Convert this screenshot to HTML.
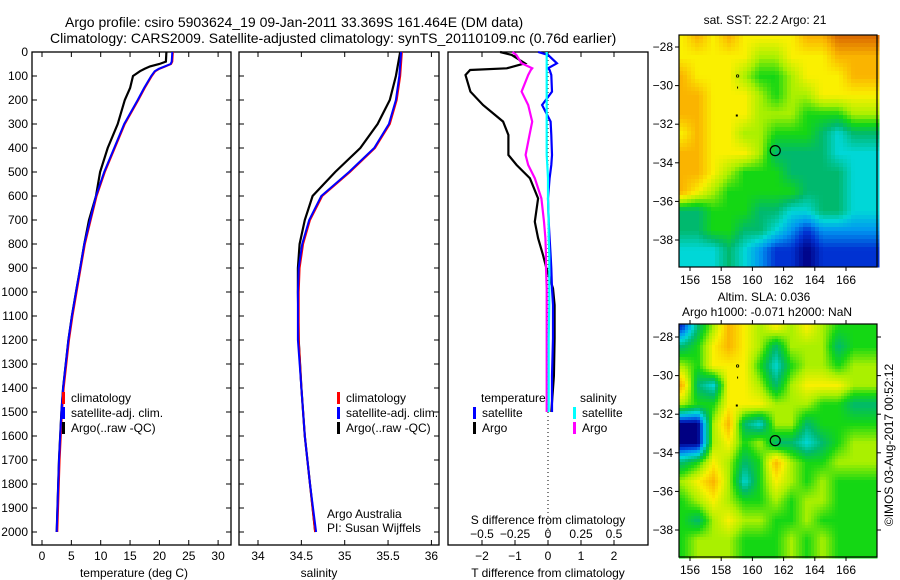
<!DOCTYPE html>
<html><head><meta charset="utf-8"><style>
html,body{margin:0;padding:0;background:#fff;}
svg{display:block;font-family:"Liberation Sans",Arial,sans-serif;}
text{fill:#000;}
</style></head><body>
<svg id="fig" width="900" height="580" viewBox="0 0 900 580" xmlns="http://www.w3.org/2000/svg">
<text x="65" y="27" font-size="14">Argo profile: csiro 5903624_19 09-Jan-2011 33.369S 161.464E (DM data)</text>
<text x="50" y="43" font-size="14">Climatology: CARS2009. Satellite-adjusted climatology: synTS_20110109.nc (0.76d earlier)</text>
<g id="p1"></g>
<g id="p2"></g>
<g id="p3"></g>
<g id="m1"></g>
<g id="m2"></g>
<text x="765" y="24" font-size="12" text-anchor="middle">sat. SST: 22.2 Argo: 21</text>
<text x="764" y="301" font-size="12" text-anchor="middle">Altim. SLA: 0.036</text>
<text x="767" y="316" font-size="12" text-anchor="middle">Argo h1000: -0.071 h2000: NaN</text>
<text transform="translate(893,445) rotate(-90)" font-size="12" text-anchor="middle">©IMOS 03-Aug-2017 00:52:12</text>
</svg>
<script>
// ---- data ----
const depthT = [0,40,50,60,70,80,100,150,200,300,400,500,600,700,800,900,1000,1100,1200,1400,1500,1700,2000];
const climT  = [22.3,22.2,22.0,21.0,20.0,19.3,18.7,17.5,16.4,14.1,12.4,10.7,9.3,8.3,7.3,6.6,5.9,5.2,4.6,3.7,3.4,3.0,2.6];
const satT   = [22.2,22.1,21.9,20.9,19.9,19.2,18.6,17.4,16.3,14.0,12.3,10.6,9.2,8.2,7.2,6.5,5.8,5.1,4.5,3.6,3.3,2.9,2.5];
const argoT  = [21.2,21.1,20.0,18.4,17.5,16.7,15.5,15.0,14.1,12.9,11.2,9.9,9.2,8.0,7.2,6.5,5.8,5.1,4.5,3.6,3.3,2.9,2.5];
const depthS = [0,100,200,300,400,500,600,700,800,900,1000,1200,1400,1600,1800,2000];
const climS  = [35.66,35.64,35.60,35.52,35.35,35.06,34.74,34.60,34.52,34.48,34.47,34.47,34.50,34.54,34.60,34.66];
const satS   = [35.65,35.63,35.59,35.51,35.34,35.05,34.73,34.59,34.51,34.47,34.46,34.46,34.50,34.54,34.60,34.67];
const argoS  = [35.64,35.59,35.52,35.38,35.18,34.89,34.63,34.54,34.48,34.46,34.46,34.47,34.50,34.54,34.60,34.66];
const depthD = [0,12,47,68,75,96,165,221,290,346,429,471,526,610,707,776,846,901,985,1054,1193,1350,1500];
const argoDT = [-1.45,-1.1,-0.7,-1.25,-2.36,-2.5,-2.35,-1.97,-1.36,-1.2,-1.2,-0.95,-0.55,-0.3,-0.4,-0.3,-0.15,-0.05,0.15,0.2,0.2,0.18,0.1];
const satDT  = [-0.3,0.0,0.27,0.0,0.05,0.1,0.12,-0.18,0.08,0.1,0.12,0.1,0.05,0.0,0.02,0.05,0.08,0.1,0.12,0.15,0.15,0.12,0.12];
const argoDS = [-0.27,-0.24,-0.2,-0.12,-0.13,-0.15,-0.2,-0.15,-0.12,-0.14,-0.17,-0.15,-0.1,-0.05,-0.03,-0.02,-0.015,-0.015,-0.01,-0.01,-0.01,-0.01,-0.01];
const satDS  = [-0.01,-0.01,-0.01,-0.01,-0.01,-0.01,-0.01,-0.01,-0.01,-0.01,-0.01,-0.005,0,0,0.005,0.005,0.01,0.01,0.01,0.01,0.005,0.005,0.005];
const depthTicks = [0,100,200,300,400,500,600,700,800,900,1000,1100,1200,1300,1400,1500,1600,1700,1800,1900,2000];
const tTicks = [0,5,10,15,20,25,30];
const sTicks = [34,34.5,35,35.5,36];
const dTTicks = [-2,-1,0,1,2];
const dSTicks = [-0.5,-0.25,0,0.25,0.5];
const lonTicks = [156,158,160,162,164,166];
const latTicks = [-28,-30,-32,-34,-36,-38];
const argoLon = 161.464, argoLat = -33.369;
// SST map field (rows lat -27.5..-38.5, cols lon 155.5..166.5)
const sstField = [
[7,8,7,8,7,7,7,7,8,8,9,9],
[7,7,7,7,7,6,6,7,7,7,8,8],
[8,7,7,7,6,5,5,6,7,7,7,8],
[8,8,7,7,7,6,5,6,6,7,7,7],
[8,8,7,7,7,6,6,6,5,5,5,6],
[7,8,7,7,6,6,5,5,5,4,3,4],
[8,8,7,7,7,6,4,4,4,4,3,3],
[8,8,7,6,5,5,5,4,4,4,4,3],
[8,7,6,5,5,5,5,5,4,4,4,3],
[4,4,5,5,5,4,4,3,3,4,4,3],
[4,4,5,5,4,4,3,2,1,2,2,2],
[3,3,3,4,3,2,1,1,0,1,1,1]];
const slaField = [
[1,4,6,8,7,6,7,6,7,6,5,5],
[4,5,7,8,7,6,4,6,6,6,4,5],
[6,5,7,7,7,5,3,5,6,6,5,6],
[8,4,3,7,7,6,4,6,7,7,7,6],
[6,5,5,7,7,7,6,6,6,5,5,4],
[0,0,6,8,4,3,6,6,4,5,5,5],
[0,0,6,7,5,6,4,4,3,4,5,6],
[4,5,7,6,4,5,8,6,5,5,6,6],
[6,7,8,6,3,5,7,6,5,6,5,5],
[5,6,7,6,5,5,6,5,6,6,5,5],
[5,4,6,7,6,6,5,5,6,5,5,5],
[5,6,6,6,5,5,5,6,5,6,5,5]];

// ---- helpers ----
const NS="http://www.w3.org/2000/svg";
function mk(tag, parent, attrs){const e=document.createElementNS(NS,tag);for(const k in attrs)e.setAttribute(k,attrs[k]);parent.appendChild(e);return e;}
function txt(parent,x,y,s,anchor,size){const t=mk('text',parent,{x:x,y:y,'font-size':size||12,'text-anchor':anchor||'middle'});t.textContent=s;return t;}
const yTop=52, yScale=0.24, pBottom=545;
const yD = d => yTop + d*yScale;

function frame(g,x0,x1){
  const r=mk('rect',g,{x:x0,y:yTop,width:x1-x0,height:pBottom-yTop,fill:'none',stroke:'#000','stroke-width':1.3});
  
  
  depthTicks.forEach(d=>{
    mk('line',g,{x1:x0,x2:x0+5,y1:yD(d),y2:yD(d),stroke:'#000'});
    mk('line',g,{x1:x1,x2:x1-5,y1:yD(d),y2:yD(d),stroke:'#000'});
  });
}
function line(g,xs,ds,xf,color,w,name){
  const pts=xs.map((v,i)=>xf(v).toFixed(1)+','+yD(ds[i]).toFixed(1)).join(' ');
  const p=mk('polyline',g,{points:pts,fill:'none',stroke:color,'stroke-width':w});
  
  
}
function legend(g,x,y,items){
  items.forEach((it,i)=>{
    const yy=y+i*15;
    mk('rect',g,{x:x,y:yy-10,width:3,height:12,fill:it[1]});
    const t=txt(g,x+9,yy,it[0],'start',12);
    
    
  });
}

// ---- panel 1 ----
const p1=document.getElementById('p1');
const xT = t => 42 + t*5.87;
frame(p1,32,231);
depthTicks.forEach(d=>{const t=txt(p1,28,yD(d)+4,String(d),'end',12);
  
  });
tTicks.forEach(v=>{mk('line',p1,{x1:xT(v),x2:xT(v),y1:pBottom,y2:pBottom-5,stroke:'#000'});mk('line',p1,{x1:xT(v),x2:xT(v),y1:yTop,y2:yTop+5,stroke:'#000'});
  const t=txt(p1,xT(v),560,String(v));
  
  });
const xl1=txt(p1,134,577,'temperature (deg C)');


line(p1,argoT,depthT,xT,'#000',2.2,'argo-temperature-line');
line(p1,climT,depthT,xT,'#f00',2,'clim-temperature-line');
line(p1,satT,depthT,xT,'#00f',2,'sat-temperature-line');
legend(p1,62,402,[['climatology','#f00'],['satellite-adj. clim.','#00f'],['Argo(..raw -QC)','#000']]);

// ---- panel 2 ----
const p2=document.getElementById('p2');
const xS = s => 258 + (s-34)*86.7;
frame(p2,239,439);
sTicks.forEach(v=>{mk('line',p2,{x1:xS(v),x2:xS(v),y1:pBottom,y2:pBottom-5,stroke:'#000'});mk('line',p2,{x1:xS(v),x2:xS(v),y1:yTop,y2:yTop+5,stroke:'#000'});
  const t=txt(p2,xS(v),560,String(v));
  
  });
const xl2=txt(p2,319,577,'salinity');


line(p2,argoS,depthS,xS,'#000',2.2,'argo-salinity-line');
line(p2,climS,depthS,xS,'#f00',2,'clim-salinity-line');
line(p2,satS,depthS,xS,'#00f',2,'sat-salinity-line');
legend(p2,337,402,[['climatology','#f00'],['satellite-adj. clim.','#00f'],['Argo(..raw -QC)','#000']]);
txt(p2,327,518,'Argo Australia','start',12);
txt(p2,327,532,'PI: Susan Wijffels','start',12);

// ---- panel 3 ----
const p3=document.getElementById('p3');
const xDT = v => 548 + v*33;
const xDS = v => 548 + v*132;
const r3=mk('rect',p3,{x:448,y:yTop,width:200,height:pBottom-yTop,fill:'none',stroke:'#000','stroke-width':1.3});


mk('line',p3,{x1:548,x2:548,y1:yTop,y2:pBottom,stroke:'#000','stroke-dasharray':'1,3'});
dTTicks.forEach(v=>{mk('line',p3,{x1:xDT(v),x2:xDT(v),y1:pBottom,y2:pBottom-5,stroke:'#000'});mk('line',p3,{x1:xDT(v),x2:xDT(v),y1:yTop,y2:yTop+5,stroke:'#000'});
  const t=txt(p3,xDT(v),560,String(v).replace('-','\u2212'));
  
  });
dSTicks.forEach(v=>{
  const t=txt(p3,xDS(v),538,String(v).replace('0.','.').replace('-.','\u2212.').replace('.','0.'));
  
  });
txt(p3,548,524,'S difference from climatology');
const xl3=txt(p3,548,577,'T difference from climatology');


line(p3,argoDT,depthD,xDT,'#000',2.2,'argo-t-diff-line');
line(p3,argoDS,depthD,xDS,'#f0f',2.2,'argo-s-diff-line');
line(p3,satDT,depthD,xDT,'#00f',2.2,'sat-t-diff-line');
line(p3,satDS,depthD,xDS,'#0ff',2.2,'sat-s-diff-line');
txt(p3,481,402,'temperature','start',12);
txt(p3,580,402,'salinity','start',12);
legend(p3,473,417,[['satellite','#00f'],['Argo','#000']]);
legend(p3,573,417,[['satellite','#0ff'],['Argo','#f0f']]);

// ---- maps ----
const cmap=[[0,0,130],[0,50,210],[0,150,240],[0,215,215],[0,185,110],[20,215,20],[170,240,0],[250,240,0],[250,180,0],[220,110,0]];
function col(v){v=Math.max(0,Math.min(9,v));const i=Math.min(8,Math.floor(v)),f=v-i;const a=cmap[i],b=cmap[i+1];
  return 'rgb('+a.map((c,k)=>Math.round(c+(b[k]-c)*f)).join(',')+')';}
function sample(F,lon,lat){
  const cx=Math.max(0,Math.min(11,lon-155.5)), cy=Math.max(0,Math.min(11,-27.5-lat));
  const i=Math.min(10,Math.floor(cx)),j=Math.min(10,Math.floor(cy)),fx=cx-i,fy=cy-j;
  return F[j][i]*(1-fx)*(1-fy)+F[j][i+1]*fx*(1-fy)+F[j+1][i]*(1-fx)*fy+F[j+1][i+1]*fx*fy;}
function map(id,F,top,bottom,lat28,lat38,step,allTicks){
  const g=document.getElementById(id);
  const x0=679,x1=877;
  const xL = lon => 690 + (lon-156)*15.6;
  const yL = lat => lat28 + (-28-lat)*(lat38-lat28)/10;
  const lonOf = x => 156 + (x-690)/15.6;
  const latOf = y => -28 - (y-lat28)*10/(lat38-lat28);
  for(let y=top;y<bottom;y+=step){for(let x=x0;x<x1;x+=step){
    mk('rect',g,{x:x,y:y,width:step+0.5,height:step+0.5,fill:col(sample(F,lonOf(x+step/2),latOf(y+step/2)))});}}
  const fr=mk('rect',g,{x:x0,y:top,width:x1-x0,height:bottom-top,fill:'none',stroke:'#000','stroke-width':1.2});
  
  
  lonTicks.forEach(v=>{mk('line',g,{x1:xL(v),x2:xL(v),y1:bottom,y2:bottom+4,stroke:'#000'});
    if(allTicks)mk('line',g,{x1:xL(v),x2:xL(v),y1:top,y2:top-4,stroke:'#000'});
    const t=txt(g,xL(v),bottom+17,String(v));
    
    });
  latTicks.forEach(v=>{mk('line',g,{x1:x0,x2:x0-4,y1:yL(v),y2:yL(v),stroke:'#000'});
    if(allTicks)mk('line',g,{x1:x1,x2:x1+4,y1:yL(v),y2:yL(v),stroke:'#000'});
    const t=txt(g,x0-6,yL(v)+4,String(v).replace('-','\u2212'),'end',12);
    
    });
  const c=mk('circle',g,{cx:xL(argoLon),cy:yL(argoLat),r:5,fill:'none',stroke:'#000','stroke-width':1.2});
  
  
  mk('circle',g,{cx:xL(159.05),cy:yL(-29.5),r:1.2,fill:'none',stroke:'#000','stroke-width':0.8});
  mk('rect',g,{x:xL(159.05)-0.5,y:yL(-30.05),width:1,height:2,fill:'#000'});
  mk('rect',g,{x:xL(159.0)-1,y:yL(-31.55)-1,width:2,height:2,fill:'#000'});
}
map('m1',sstField,35,267,47,240,4,false);
map('m2',slaField,324,557,337,530,3,true);
</script>
</body></html>
